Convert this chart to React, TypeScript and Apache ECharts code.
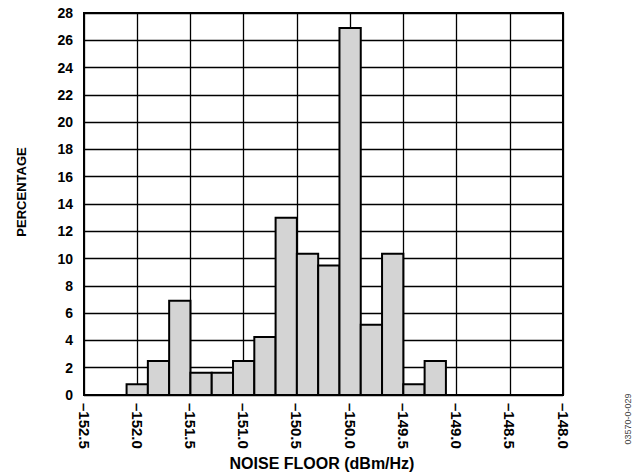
import React, { useEffect, useRef } from "react";
import * as echarts from "echarts";

const binStarts = [-152.1, -151.9, -151.7, -151.5, -151.3, -151.1, -150.9, -150.7, -150.5, -150.3, -150.1, -149.9, -149.7, -149.5, -149.3];
const binEnds = [-151.9, -151.7, -151.5, -151.3, -151.1, -150.9, -150.7, -150.5, -150.3, -150.1, -149.9, -149.7, -149.5, -149.3, -149.1];
const percentages = [0.78, 2.5, 6.9, 1.64, 1.64, 2.5, 4.25, 13.0, 10.35, 9.5, 26.9, 5.15, 10.35, 0.78, 2.5];

const FONT = "Arial, 'Liberation Sans', sans-serif";

export default function App() {
  const ref = useRef<HTMLDivElement>(null);
  useEffect(() => {
    if (!ref.current) return;
    const chart = echarts.init(ref.current, null, { renderer: "svg" });
    const data = binStarts.map((s, i) => [s, binEnds[i], percentages[i]]);
    chart.setOption({
      animation: false,
      grid: { left: 84, right: 81, top: 13, bottom: 79, show: false },
      xAxis: {
        type: "value",
        min: -152.5,
        max: -148.0,
        interval: 0.5,
        axisLine: { show: true, onZero: false, lineStyle: { color: "#000", width: 2 } },
        axisTick: { show: false },
        splitLine: { show: true, lineStyle: { color: "#000", width: 1.3 } },
        axisLabel: {
          rotate: -90,
          margin: 8,
          color: "#000",
          fontFamily: FONT,
          fontWeight: "bold",
          fontSize: 15,
          formatter: (v: number) => "\u2013" + Math.abs(v).toFixed(1),
        },
      },
      yAxis: {
        type: "value",
        min: 0,
        max: 28,
        interval: 2,
        axisLine: { show: true, lineStyle: { color: "#000", width: 2 } },
        axisTick: { show: false },
        splitLine: { show: true, lineStyle: { color: "#000", width: 1.3 } },
        axisLabel: {
          margin: 11,
          color: "#000",
          fontFamily: FONT,
          fontWeight: "bold",
          fontSize: 14,
        },
      },
      graphic: [
        {
          type: "rect",
          shape: { x: 84, y: 13, width: 644 - 84 - 81, height: 474 - 13 - 79 },
          style: { fill: "none", stroke: "#000", lineWidth: 2 },
          z: 100,
        },
        {
          type: "text",
          x: 322,
          y: 463,
          style: {
            text: "NOISE FLOOR (dBm/Hz)",
            fontFamily: FONT,
            fontWeight: "bold",
            fontSize: 16,
            fill: "#000",
            align: "center",
            verticalAlign: "middle",
          },
        },
        {
          type: "text",
          x: 21,
          y: 192,
          rotation: Math.PI / 2,
          style: {
            text: "PERCENTAGE",
            fontFamily: FONT,
            fontWeight: "bold",
            fontSize: 13,
            fill: "#000",
            align: "center",
            verticalAlign: "middle",
          },
        },
        {
          type: "text",
          x: 628,
          y: 419,
          rotation: Math.PI / 2,
          style: {
            text: "03570-0-029",
            fontFamily: FONT,
            fontSize: 9,
            fill: "#444",
            align: "center",
            verticalAlign: "middle",
          },
        },
      ],
      series: [
        {
          type: "custom",
          data,
          encode: { x: [0, 1], y: 2 },
          renderItem: (params: any, api: any) => {
            const p0 = api.coord([api.value(0), api.value(2)]);
            const p1 = api.coord([api.value(1), 0]);
            return {
              type: "rect",
              shape: { x: p0[0], y: p0[1], width: p1[0] - p0[0], height: p1[1] - p0[1] },
              style: { fill: "#d4d4d4", stroke: "#000", lineWidth: 2 },
            };
          },
        },
      ],
    });
    return () => chart.dispose();
  }, []);
  return <div ref={ref} style={{ width: 644, height: 474, position: "absolute", left: 0, top: 0 }} />;
}
